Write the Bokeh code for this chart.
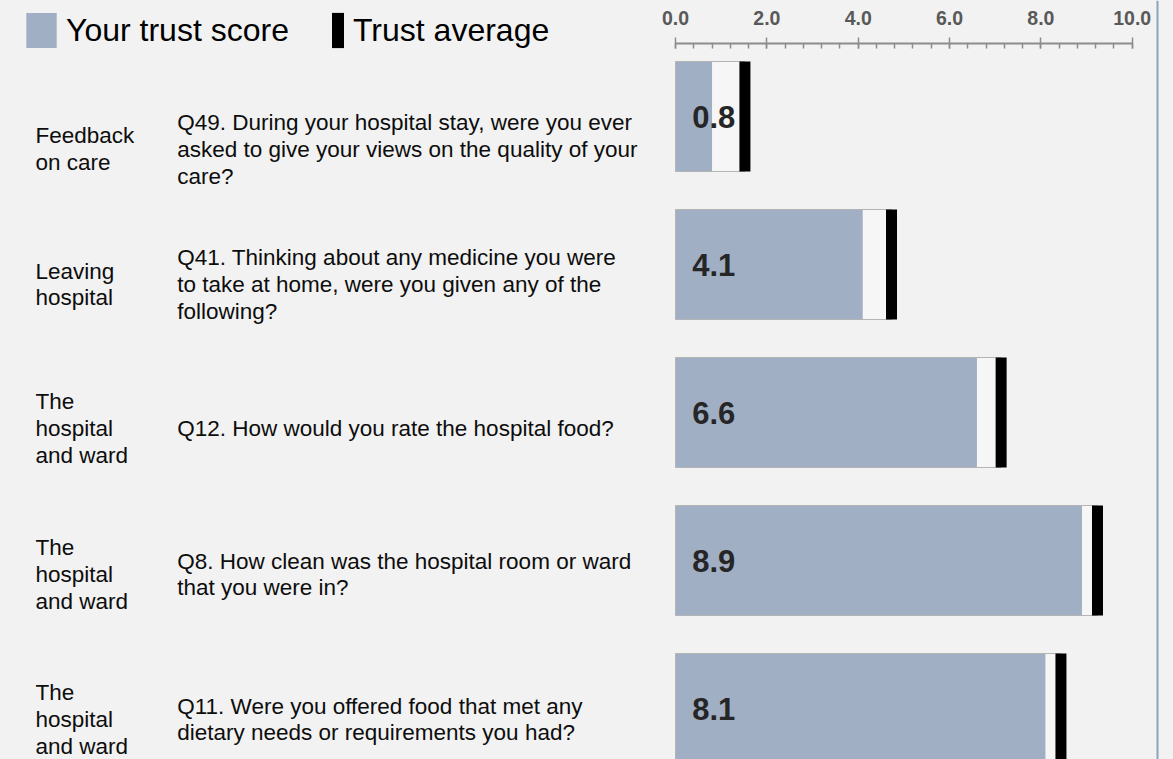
from bokeh.plotting import figure
from bokeh.models import (Range1d, LinearAxis, SingleIntervalTicker, PrintfTickFormatter,
                          Span, Legend, LegendItem, ColumnDataSource)
from bokeh.core.properties import value
from bokeh.embed import file_html
from bokeh.resources import INLINE

# ---------------- data ----------------
categories = ["Feedback\non care", "Leaving\nhospital", "The\nhospital\nand ward",
              "The\nhospital\nand ward", "The\nhospital\nand ward"]
questions = [
    "Q49. During your hospital stay, were you ever\nasked to give your views on the quality of your\ncare?",
    "Q41. Thinking about any medicine you were\nto take at home, were you given any of the\nfollowing?",
    "Q12. How would you rate the hospital food?",
    "Q8. How clean was the hospital room or ward\nthat you were in?",
    "Q11. Were you offered food that met any\ndietary needs or requirements you had?",
]
scores = [0.8, 4.1, 6.6, 8.9, 8.1]
averages = [1.52, 4.73, 7.13, 9.24, 8.44]
tick_interval = 2.0
legend_labels = ["Your trust score", "Trust average"]

# ---------------- layout ----------------
W, H = 1173, 759
PX_PER_UNIT = 45.67
ZERO_PX = 675
ROW_PX = 148
FIRST_ROW_PX = 116
x0 = -ZERO_PX / PX_PER_UNIT
x1 = (W - ZERO_PX) / PX_PER_UNIT
ytop = -FIRST_ROW_PX / ROW_PX
ybot = (H - FIRST_ROW_PX) / ROW_PX
bar_h = 110 / ROW_PX
text_dy = [32.8, 20, 16, 14, 11]

BLUE = "#a1afc4"
BG = "#f2f2f2"
FONT = "Liberation Sans"

rows = list(range(len(scores)))
src = ColumnDataSource(dict(
    y=rows, score=scores, avg=averages,
    cat=categories, q=questions,
    lab=["%.1f" % s for s in scores],
    dy=text_dy,
    xs=[x0] * len(rows),
    zero=[0.0] * len(rows),
))

p = figure(width=W, height=H, output_backend="svg", toolbar_location=None,
           x_range=Range1d(x0, x1), y_range=Range1d(ybot, ytop),
           x_axis_location=None, y_axis_location=None,
           min_border=0, background_fill_color=BG, border_fill_color=BG,
           outline_line_color=None)
p.grid.visible = False

# bars
p.hbar(y="y", left="zero", right="avg", height=bar_h, source=src,
       fill_color="#f6f6f6", line_color=None)
blue = p.hbar(y="y", left="zero", right="score", height=bar_h, source=src,
              fill_color=BLUE, line_color=None)
p.hbar(y="y", left="zero", right="avg", height=bar_h, source=src,
       fill_color=None, line_color="#b4b4b4", line_width=1)
black = p.rect(x="avg", y="y", width=11, width_units="screen", height=bar_h, source=src,
               fill_color="black", line_color=None)

# texts
p.text(x="zero", y="y", text="lab", source=src, x_offset=16.7,
       text_font=value(FONT), text_font_style="bold", text_font_size="31px",
       text_color="#262626", text_baseline="middle", text_align="left")
p.text(x="xs", y="y", text="cat", source=src, x_offset=35, y_offset="dy",
       text_font=value(FONT), text_font_size="22.5px", text_color="#0d0d0d",
       text_baseline="middle", text_align="left", text_line_height=1.07)
p.text(x="xs", y="y", text="q", source=src, x_offset=176.7, y_offset="dy",
       text_font=value(FONT), text_font_size="22.5px", text_color="#0d0d0d",
       text_baseline="middle", text_align="left", text_line_height=1.07)

# top axis
axis = LinearAxis(ticker=SingleIntervalTicker(interval=tick_interval, num_minor_ticks=5),
                  formatter=PrintfTickFormatter(format="%.1f"),
                  bounds=(0, 10),
                  fixed_location=ytop + 42.5 / ROW_PX)
axis.axis_line_color = "#8c8c8c"
axis.axis_line_width = 2
axis.major_tick_line_color = "#8c8c8c"
axis.major_tick_line_width = 1.5
axis.major_tick_out = 6
axis.major_tick_in = 5
axis.minor_tick_line_color = "#8c8c8c"
axis.minor_tick_line_width = 1.5
axis.minor_tick_out = 0
axis.minor_tick_in = 5
axis.major_label_standoff = 12
axis.major_label_text_font = FONT
axis.major_label_text_font_style = "bold"
axis.major_label_text_font_size = "19.5px"
axis.major_label_text_color = "#595959"
p.add_layout(axis, "above")

# right edge line
p.add_layout(Span(location=1157, location_units="screen", dimension="height",
                  line_color="#8fa1bf", line_width=2))

# legends
common = dict(orientation="horizontal", padding=0, margin=0, spacing=0,
              border_line_color=None, background_fill_alpha=0,
              label_text_font=FONT, label_text_font_size="32px",
              label_text_color="#000000", glyph_height=44)
leg1 = Legend(items=[LegendItem(label=legend_labels[0], renderers=[blue])],
              location=(22, H - 52), glyph_width=38, label_standoff=6, **common)
leg2 = Legend(items=[LegendItem(label=legend_labels[1], renderers=[black])],
              location=(330, H - 52), glyph_width=15, label_standoff=8, **common)
p.add_layout(leg1, "center")
p.add_layout(leg2, "center")

html = file_html(p, INLINE)
html = html.replace("<head>", "<head><style>body{background:#f2f2f2;}</style>", 1)
open("out.html", "w").write(html)
